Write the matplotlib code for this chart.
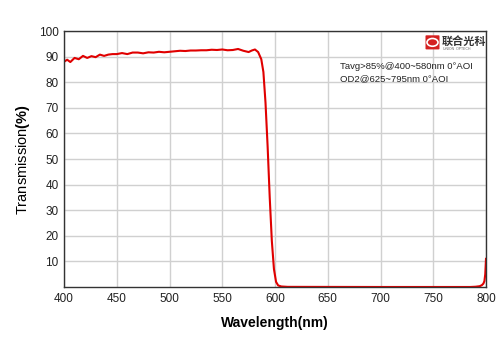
import matplotlib
matplotlib.use("Agg")
import matplotlib.pyplot as plt
from matplotlib.patches import FancyBboxPatch, Circle

wavelength = [400, 403, 406, 410, 414, 418, 422, 426, 430, 434, 438, 442, 446, 450,
              455, 460, 465, 470, 475, 480, 485, 490, 495, 500, 505, 510, 515, 520,
              525, 530, 535, 540, 545, 550, 555, 560, 565, 570, 575, 578, 581, 584,
              587, 589, 591, 593, 595, 597, 599, 601, 603, 606, 612, 700, 785, 790,
              794, 796, 797.5, 798.5, 799.3, 800]
transmission = [88.0, 88.8, 87.9, 89.5, 89.0, 90.3, 89.5, 90.2, 89.8, 90.8, 90.3, 90.8,
                91.0, 91.0, 91.4, 91.0, 91.6, 91.6, 91.3, 91.7, 91.6, 91.9, 91.7, 91.9,
                92.1, 92.3, 92.2, 92.4, 92.4, 92.5, 92.5, 92.7, 92.6, 92.8, 92.5, 92.6,
                93.0, 92.3, 91.8, 92.4, 92.8, 91.8, 89.0, 84.0, 72.0, 55.0, 35.0, 18.0,
                7.0, 2.0, 0.6, 0.2, 0.05, 0.0, 0.0, 0.1, 0.3, 0.7, 1.3, 2.3, 5.0, 11.0]
x_ticks = [400, 450, 500, 550, 600, 650, 700, 750, 800]
y_ticks = [10, 20, 30, 40, 50, 60, 70, 80, 90, 100]
spec_lines = ["Tavg>85%@400~580nm 0°AOI", "OD2@625~795nm 0°AOI"]

plt.rcParams['font.family'] = ['Liberation Sans', 'DejaVu Sans']
plt.rcParams['mathtext.fontset'] = 'custom'
plt.rcParams['mathtext.bf'] = 'Liberation Sans:bold'
plt.rcParams['mathtext.rm'] = 'Liberation Sans'

fig = plt.figure(figsize=(5, 3.53), dpi=100)
ax = fig.add_axes([0.128, 0.187, 0.844, 0.725])
ax.plot(wavelength, transmission, color='#e00000', lw=1.5, solid_joinstyle='round')
ax.set_xlim(400, 800)
ax.set_ylim(0, 100)
ax.set_xticks(x_ticks)
ax.set_yticks(y_ticks)
ax.tick_params(length=0, labelsize=8.5, colors='#222222', pad=4)
ax.grid(True, color='#d0d0d0', lw=1)
ax.set_axisbelow(True)
for s in ax.spines.values():
    s.set_color('#333333')
    s.set_linewidth(1)

ax.set_xlabel('Wavelength(nm)', fontsize=10, fontweight='bold', labelpad=8)
ax.set_ylabel(r'Transmission$\mathbf{(\%)}$', fontsize=10.5, labelpad=5)

for i, t in enumerate(spec_lines):
    fig.text(0.68, 0.811 - i * 0.034, t, fontsize=6.8, color='#222222', va='center')

# logo
box = FancyBboxPatch((0.853, 0.862), 0.024, 0.036, boxstyle='round,pad=0.002',
                     transform=fig.transFigure, facecolor='#d42020', edgecolor='none')
fig.patches.append(box)
fig.patches.append(Circle((0.865, 0.880), 0.011, transform=fig.transFigure,
                          facecolor='none', edgecolor='white', lw=1.2))
fig.text(0.884, 0.883, '联合光科', fontsize=8, fontweight='bold', color='#333333',
         va='center', family=['Noto Sans CJK SC', 'DejaVu Sans'])
fig.text(0.886, 0.860, 'UNION  OPTECH', fontsize=2.5, color='#666666', va='center')

fig.savefig('out.png', dpi=100)
